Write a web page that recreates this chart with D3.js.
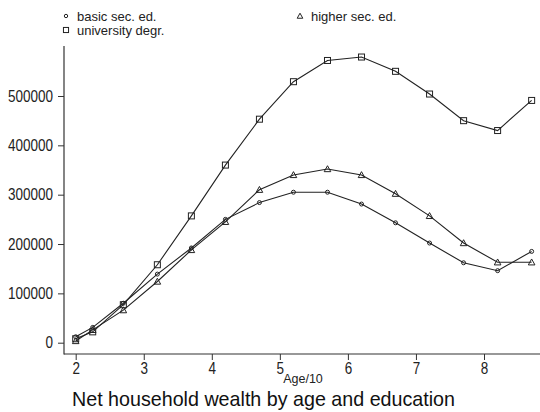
<!DOCTYPE html>
<html><head><meta charset="utf-8">
<script src="https://cdn.jsdelivr.net/npm/d3@7"></script>
<style>
html,body{margin:0;padding:0;background:#fff;}
svg{display:block;font-family:"Liberation Sans",Arial,sans-serif;}
</style></head>
<body>
<svg id="chart" width="540" height="412"></svg>
<script>
const ages = [2.0, 2.25, 2.7, 3.2, 3.7, 4.2, 4.7, 5.2, 5.7, 6.2, 6.7, 7.2, 7.7, 8.2, 8.7];
const basicSec = [12000, 31000, 80000, 139000, 192000, 250000, 284000, 305000, 305000, 281000, 243000, 202000, 162000, 146000, 185000];
const higherSec = [3500, 26000, 66000, 124000, 188000, 245000, 310000, 340000, 352000, 340000, 302000, 257000, 202000, 163000, 163000];
const university = [8000, 22000, 77000, 158000, 257000, 360000, 453000, 529000, 572000, 579000, 550000, 504000, 450000, 430000, 491000];
const xTicks = [2, 3, 4, 5, 6, 7, 8];
const yTicks = [0, 100000, 200000, 300000, 400000, 500000];
const seriesNames = ["basic sec. ed.", "higher sec. ed.", "university degr."];
const xLabel = "Age/10";
const title = "Net household wealth by age and education";

const svg = d3.select("#chart");
const ink = "#222";
const x = d3.scaleLinear().domain([2, 8]).range([75.7, 484]);
const y = d3.scaleLinear().domain([0, 500000]).range([342.7, 96]);
const axisLeftX = 64, axisBottomY = 354;

svg.append("line").attr("x1", axisLeftX).attr("x2", axisLeftX).attr("y1", 46).attr("y2", axisBottomY + 0.5)
  .attr("stroke", "#333").attr("stroke-width", 1.2);
svg.append("line").attr("x1", axisLeftX).attr("x2", 540).attr("y1", axisBottomY).attr("y2", axisBottomY)
  .attr("stroke", "#333").attr("stroke-width", 1.2);

const yAxis = svg.append("g").attr("transform", `translate(${axisLeftX},0)`)
  .call(d3.axisLeft(y).tickValues(yTicks).tickSize(6).tickPadding(5).tickFormat(d => String(d)));
yAxis.select(".domain").remove();
yAxis.selectAll(".tick line").attr("stroke", "#333");
yAxis.selectAll(".tick text").attr("font-size", 16).attr("fill", "#222")
  .attr("font-family", "'Liberation Sans', Arial, sans-serif")
  .attr("textLength", d => String(d).length * 7.5).attr("lengthAdjust", "spacingAndGlyphs");

const xAxis = svg.append("g").attr("transform", `translate(0,${axisBottomY})`)
  .call(d3.axisBottom(x).tickValues(xTicks).tickSize(6).tickPadding(3).tickFormat(d => String(d)));
xAxis.select(".domain").remove();
xAxis.selectAll(".tick line").attr("stroke", "#333");
xAxis.selectAll(".tick text").attr("font-size", 16).attr("fill", "#222")
  .attr("font-family", "'Liberation Sans', Arial, sans-serif")
  .attr("textLength", 7.5).attr("lengthAdjust", "spacingAndGlyphs");

const line = d3.line().x((d, i) => x(ages[i])).y(d => y(d));
const series = [
  {name: seriesNames[0], values: basicSec, marker: "circle"},
  {name: seriesNames[1], values: higherSec, marker: "triangle"},
  {name: seriesNames[2], values: university, marker: "square"}
];

function drawMarker(g, type, cx, cy, k) {
  k = k || 1;
  if (type === "circle") {
    g.append("circle").attr("cx", cx).attr("cy", cy).attr("r", 2 * k)
      .attr("fill", "none").attr("stroke", ink).attr("stroke-width", 1);
  } else if (type === "square") {
    const h = 3 * k;
    g.append("rect").attr("x", cx - h).attr("y", cy - h).attr("width", 2 * h).attr("height", 2 * h)
      .attr("fill", "none").attr("stroke", ink).attr("stroke-width", 1);
  } else {
    const s = 3.3 * k;
    g.append("path").attr("d", `M${cx},${cy - s}L${cx + s},${cy + s * 0.8}L${cx - s},${cy + s * 0.8}Z`)
      .attr("fill", "none").attr("stroke", ink).attr("stroke-width", 1);
  }
}

series.forEach(s => {
  svg.append("path").datum(s.values).attr("d", line)
    .attr("fill", "none").attr("stroke", ink).attr("stroke-width", 1.1);
  const g = svg.append("g");
  s.values.forEach((v, i) => drawMarker(g, s.marker, x(ages[i]), y(v)));
});

const leg = svg.append("g").attr("font-size", 13).attr("fill", "#222");
const legPos = [[66, 16], [300, 16], [66, 30]];
series.forEach((s, i) => {
  const [lx, ly] = legPos[i];
  drawMarker(leg, s.marker, lx, ly, 0.85);
  leg.append("text").attr("x", lx + 11).attr("y", ly + 4.5).text(s.name);
});

svg.append("text").attr("x", 303).attr("y", 382.5).attr("text-anchor", "middle")
  .attr("font-size", 12.5).attr("fill", "#222").text(xLabel);
svg.append("text").attr("x", 72).attr("y", 406)
  .attr("font-size", 21).attr("fill", "#111")
  .attr("textLength", 383).attr("lengthAdjust", "spacingAndGlyphs").text(title);
</script>
</body></html>
